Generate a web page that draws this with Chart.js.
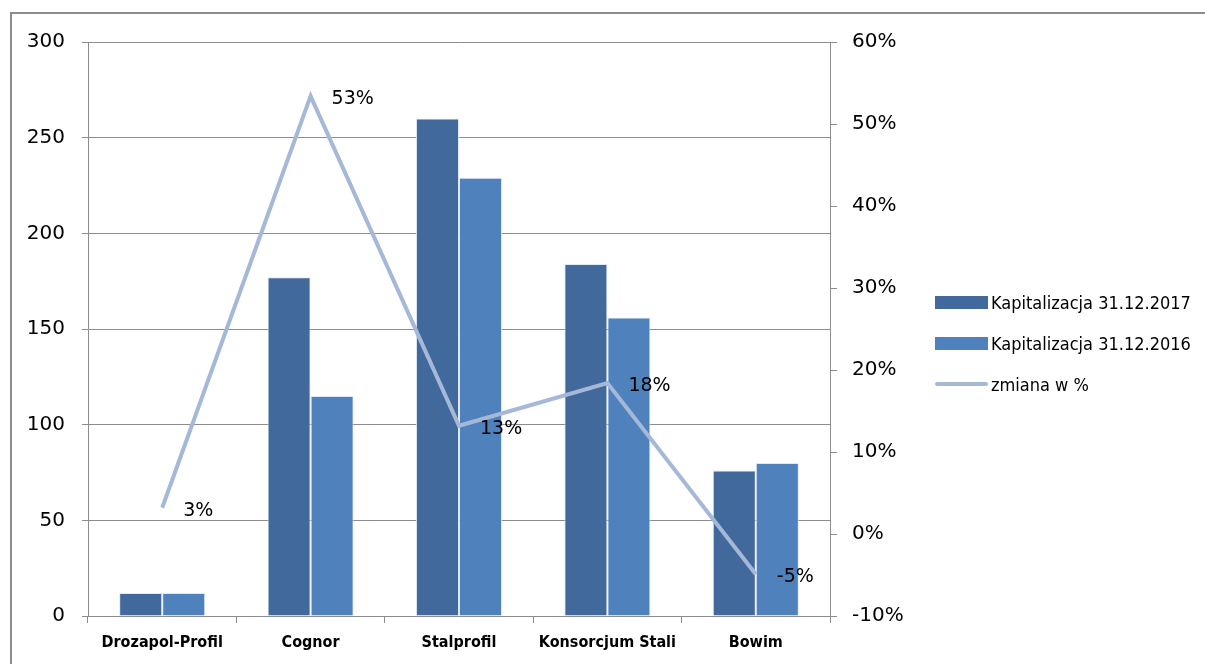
<!DOCTYPE html>
<html>
<head>
<meta charset="utf-8">
<script src="https://cdn.jsdelivr.net/npm/chart.js@4.4.0/dist/chart.umd.min.js"></script>
<style>
  body { margin: 0; background: #fff; }
  #wrap { position: relative; width: 1205px; height: 664px; overflow: hidden; }
  #frame { position: absolute; left: 10px; top: 12px; width: 1200px; height: 700px; border: 2px solid #8c8c8c; box-sizing: border-box; }
  canvas { position: absolute; left: 0; top: 0; }
  #legend { position: absolute; left: 935px; top: 291px; font-family: "DejaVu Sans Condensed", "DejaVu Sans", sans-serif; font-size: 18px; color: #000; }
  .item { display: flex; align-items: center; height: 22px; margin-bottom: 19px; }
  .sw { width: 53px; height: 13px; margin-right: 3px; }
  .ln { width: 53px; height: 4px; margin-right: 3px; background: #a5b8d7; border-radius: 2px; }
</style>
</head>
<body>
<div id="wrap">
  <div id="frame"></div>
  <canvas id="chart" width="1205" height="664"></canvas>
  <div id="legend"></div>
</div>
<script>
const companies = ["Drozapol-Profil", "Cognor", "Stalprofil", "Konsorcjum Stali", "Bowim"];
const cap2017 = [12, 177, 260, 184, 76];
const cap2016 = [12, 115, 229, 156, 80];
const changePct = [3.2, 53.4, 13.2, 18.4, -4.9];
const changeLabels = ["3%", "53%", "13%", "18%", "-5%"];

const colors = { dark: "#41699b", light: "#4f81bd", line: "#a5b8d7", grid: "#8c8c8c" };

// labels next to the line points
const pointLabels = {
  id: "pointLabels",
  afterDatasetsDraw(chart) {
    const ctx = chart.ctx;
    const meta = chart.getDatasetMeta(2);
    ctx.save();
    ctx.font = "19px 'DejaVu Sans', sans-serif";
    ctx.fillStyle = "#000";
    ctx.textBaseline = "middle";
    meta.data.forEach((pt, i) => {
      ctx.fillText(changeLabels[i], pt.x + 21, pt.y + 3);
    });
    ctx.restore();
  }
};

new Chart(document.getElementById("chart"), {
  type: "bar",
  data: {
    labels: companies,
    datasets: [
      {
        label: "Kapitalizacja 31.12.2017",
        data: cap2017,
        backgroundColor: colors.dark,
        borderColor: "rgba(220,230,245,0.9)",
        borderWidth: 1,
        yAxisID: "y",
        order: 2
      },
      {
        label: "Kapitalizacja 31.12.2016",
        data: cap2016,
        backgroundColor: colors.light,
        borderColor: "rgba(220,230,245,0.9)",
        borderWidth: 1,
        yAxisID: "y",
        order: 2
      },
      {
        type: "line",
        label: "zmiana w %",
        data: changePct,
        borderColor: colors.line,
        borderWidth: 4,
        pointRadius: 0,
        tension: 0,
        yAxisID: "y1",
        order: 1
      }
    ]
  },
  options: {
    responsive: false,
    animation: false,
    layout: { padding: { left: 10, top: 42, right: 295, bottom: 0 } },
    datasets: { bar: { barPercentage: 1, categoryPercentage: 0.58 } },
    plugins: { legend: { display: false }, tooltip: { enabled: false } },
    scales: {
      x: {
        grid: { display: true, drawOnChartArea: false, offset: true, color: colors.grid, tickLength: 7 },
        border: { color: colors.grid },
        ticks: {
          color: "#000",
          font: { family: "DejaVu Sans Condensed", size: 16, weight: "bold" },
          padding: 10,
          maxRotation: 0,
          minRotation: 0,
          autoSkip: false
        },
        afterFit(s) { s.height = 48; }
      },
      y: {
        position: "left",
        min: 0, max: 300,
        ticks: { stepSize: 50, color: "#000", font: { family: "DejaVu Sans", size: 20 }, padding: 17 },
        grid: { color: colors.grid, tickLength: 6 },
        border: { color: colors.grid },
        afterFit(s) { s.width = 78; }
      },
      y1: {
        position: "right",
        min: -10, max: 60,
        ticks: { stepSize: 10, color: "#000", font: { family: "DejaVu Sans", size: 20 }, padding: 15, callback: v => v + "%" },
        grid: { drawOnChartArea: false, color: colors.grid, tickLength: 7 },
        border: { color: colors.grid },
        afterFit(s) { s.width = 80; }
      }
    }
  },
  plugins: [pointLabels]
});

// legend
const legend = document.getElementById("legend");
[["Kapitalizacja 31.12.2017", "sw", colors.dark], ["Kapitalizacja 31.12.2016", "sw", colors.light], ["zmiana w %", "ln", null]].forEach(([text, cls, col]) => {
  const row = document.createElement("div");
  row.className = "item";
  const sw = document.createElement("div");
  sw.className = cls;
  if (col) sw.style.background = col;
  const t = document.createElement("span");
  t.textContent = text;
  row.appendChild(sw);
  row.appendChild(t);
  legend.appendChild(row);
});
</script>
</body>
</html>
